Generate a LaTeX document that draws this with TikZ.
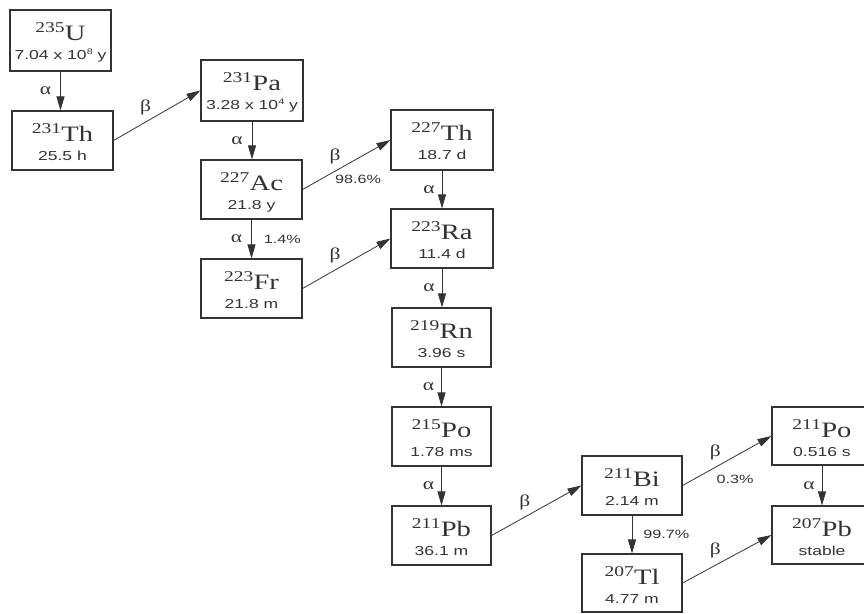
\documentclass[tikz,border=0pt]{standalone}
\usepackage{fontspec}
\usetikzlibrary{arrows.meta}
\newfontfamily\elfont[FakeStretch=1.3]{Liberation Serif}
\newfontfamily\sanfont[FakeStretch=1.35]{Liberation Sans}
\definecolor{ink}{HTML}{333333}
\tikzset{
  box/.style={draw=ink, line width=1.1pt, inner sep=0pt},
  arr/.style={draw=ink, line width=0.8pt, -{Triangle[length=14pt,width=8pt]}},
  el/.style={anchor=base, inner sep=0pt, text=ink},
  hl/.style={anchor=base, inner sep=0pt, text=ink, font=\sanfont\fontsize{13}{13}\selectfont},
  gr/.style={inner sep=0pt, text=ink, font=\elfont\fontsize{16.5}{16.5}\selectfont},
  pc/.style={inner sep=0pt, text=ink, font=\sanfont\fontsize{12}{12}\selectfont},
}
\newcommand\isobox[8]{%
  \node[box, minimum width={(#4-#2)*1pt}, minimum height={(#5-#3)*1pt}] (#1) at ({(#2+#4)/2},{(#3+#5)/2}) {};
  \node[el] (#1-el) at ({(#2+#4)/2},{#3+30}) {\raisebox{8pt}{\fontsize{15}{15}\selectfont\elfont #6}\kern0.3pt{\fontsize{22}{22}\selectfont\elfont #7}};
  \node[hl] (#1-hl) at ({(#2+#4)/2},{#3+49}) {#8};
}
\newcommand\pw[1]{\raisebox{5pt}{\fontsize{8}{8}\selectfont #1}}
\begin{document}
\begin{tikzpicture}[x=1pt,y=-1pt]
\useasboundingbox (0,0) rectangle (864,613);
\isobox{u}{10}{10}{111}{71}{235}{U}{7.04 x 10\pw{8} y}
\isobox{tha}{12}{111}{113}{170}{231}{Th}{25.5 h}
\isobox{pa}{201}{60}{303}{121}{231}{Pa}{3.28 x 10\pw{4} y}
\isobox{ac}{201}{160}{302}{219}{227}{Ac}{21.8 y}
\isobox{fr}{201}{259}{302}{318}{223}{Fr}{21.8 m}
\isobox{thb}{391}{110}{493}{170}{227}{Th}{18.7 d}
\isobox{ra}{391}{209}{493}{268}{223}{Ra}{11.4 d}
\isobox{rn}{392}{308}{491}{367}{219}{Rn}{3.96 s}
\isobox{poa}{392}{407}{491}{466}{215}{Po}{1.78 ms}
\isobox{pba}{392}{506}{491}{565}{211}{Pb}{36.1 m}
\isobox{bi}{582}{456}{682}{515}{211}{Bi}{2.14 m}
\isobox{tl}{582}{554}{682}{612}{207}{Tl}{4.77 m}
\isobox{pob}{772}{407}{872}{465}{211}{Po}{0.516 s}
\isobox{pbb}{772}{506}{872}{564}{207}{Pb}{stable}

\draw[arr] (u.south) -- (u.south |- tha.north) node[gr, midway, xshift=-15pt] (a1) {α};
\draw[arr] (tha.east) -- (pa.west) node[gr, pos=0.37, yshift=15pt] (b1) {β};
\draw[arr] (pa.south) -- (pa.south |- ac.north) node[gr, midway, xshift=-15pt] (a2) {α};
\draw[arr] (ac.east) -- (thb.west) node[gr, pos=0.37, yshift=15pt] (b2) {β}
  node[pc, midway, xshift=11.5pt, yshift=-15pt] (p1) {98.6\%};
\draw[arr] (ac.south) -- (ac.south |- fr.north) node[gr, midway, xshift=-15pt] (a3) {α}
  node[pc, midway, anchor=west, xshift=12pt] (p2) {1.4\%};
\draw[arr] (fr.east) -- (ra.west) node[gr, pos=0.37, yshift=15pt] (b3) {β};
\draw[arr] (thb.south) -- (thb.south |- ra.north) node[gr, midway, xshift=-13pt] (a4) {α};
\draw[arr] (ra.south) -- (ra.south |- rn.north) node[gr, midway, xshift=-13pt] (a5) {α};
\draw[arr] (rn.south) -- (rn.south |- poa.north) node[gr, midway, xshift=-13pt] (a6) {α};
\draw[arr] (poa.south) -- (poa.south |- pba.north) node[gr, midway, xshift=-13pt] (a7) {α};
\draw[arr] (pba.east) -- (bi.west) node[gr, pos=0.37, yshift=15pt] (b4) {β};
\draw[arr] (bi.east) -- (pob.west) node[gr, pos=0.37, yshift=15pt] (b5) {β}
  node[pc, midway, xshift=8pt, yshift=-19pt] (p3) {0.3\%};
\draw[arr] (bi.south) -- (bi.south |- tl.north) node[pc, midway, anchor=west, xshift=11pt] (p4) {99.7\%};
\draw[arr] (tl.east) -- (pbb.west) node[gr, pos=0.37, yshift=15pt] (b6) {β};
\draw[arr] (pob.south) -- (pob.south |- pbb.north) node[gr, midway, xshift=-13pt] (a8) {α};
\end{tikzpicture}
\end{document}
